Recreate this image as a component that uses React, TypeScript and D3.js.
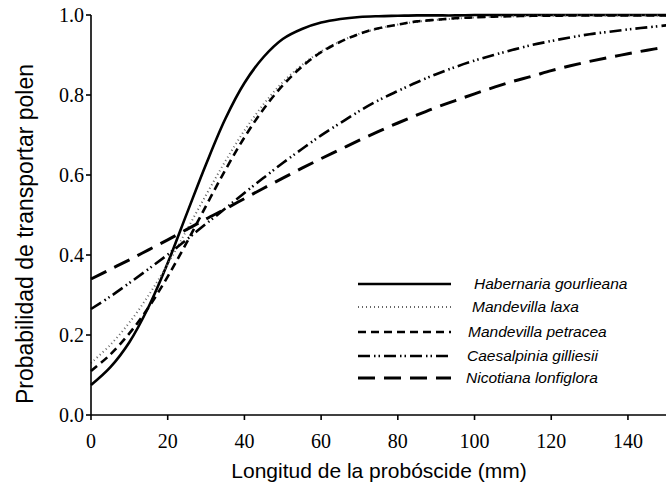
import React from "react";
import * as d3 from "d3";

const lengths = [0,5,10,15,20,25,30,35,40,45,50,55,60,65,70,75,80,85,90,95,100,105,110,115,120,125,130,135,140,145,150];

const habernaria = [0.075,0.119,0.182,0.270,0.380,0.504,0.627,0.740,0.830,0.895,0.940,0.965,0.981,0.990,0.995,0.997,0.998,0.999,0.999,0.999,1.0,1.0,1.0,1.0,1.0,1.0,1.0,1.0,1.0,1.0,1.0];
const mandevillaLaxa = [0.130,0.175,0.231,0.299,0.377,0.463,0.550,0.634,0.711,0.777,0.832,0.875,0.909,0.934,0.953,0.966,0.976,0.983,0.988,0.991,0.994,0.996,0.997,0.998,0.998,0.999,0.999,0.999,0.999,0.999,0.999];
const mandevillaPetracea = [0.110,0.151,0.204,0.269,0.346,0.432,0.523,0.612,0.694,0.765,0.824,0.871,0.907,0.933,0.953,0.967,0.976,0.984,0.988,0.992,0.994,0.996,0.997,0.998,0.998,0.999,0.999,0.999,0.999,0.999,0.999];
const caesalpinia = [0.265,0.296,0.330,0.365,0.401,0.439,0.478,0.516,0.555,0.593,0.630,0.665,0.699,0.730,0.760,0.787,0.810,0.832,0.852,0.870,0.886,0.900,0.913,0.925,0.935,0.944,0.952,0.958,0.964,0.969,0.974];
const nicotiana = [0.340,0.364,0.388,0.413,0.438,0.464,0.490,0.515,0.541,0.567,0.592,0.617,0.641,0.664,0.687,0.709,0.730,0.750,0.769,0.786,0.803,0.819,0.834,0.847,0.861,0.873,0.884,0.894,0.903,0.912,0.920];

const seriesNames = ["Habernaria gourlieana","Mandevilla laxa","Mandevilla petracea","Caesalpinia gilliesii","Nicotiana lonfiglora"];
const seriesValues = [habernaria, mandevillaLaxa, mandevillaPetracea, caesalpinia, nicotiana];

const xTicks = [0,20,40,60,80,100,120,140];
const yTicks = [0,0.2,0.4,0.6,0.8,1.0];

const styles = [
  { stroke: "#000", width: 2.6, dash: null as string | null },
  { stroke: "#666", width: 2, dash: "1,3" },
  { stroke: "#000", width: 2.6, dash: "8,5" },
  { stroke: "#000", width: 2.6, dash: "12,4,1.5,3,1.5,4" },
  { stroke: "#000", width: 3, dash: "17,9" },
];

export default function App() {
  const W = 666, H = 489;
  const x = d3.scaleLinear().domain([0, 150]).range([91, 666.3]);
  const y = d3.scaleLinear().domain([0, 1]).range([415, 15]);
  const line = d3.line<number>()
    .x((_, i) => x(lengths[i]))
    .y((d) => y(d))
    .curve(d3.curveCatmullRom);

  const serifStyle = { fontFamily: "'Liberation Serif', 'Times New Roman', 'DejaVu Serif', serif" };
  const sansStyle = { fontFamily: "'Liberation Sans', Arial, sans-serif" };
  const legendY = [284, 307, 332, 356, 378];
  const legendTextX = [474, 472, 468, 467, 466];

  return (
    <svg width={W} height={H} style={{ position: "absolute", left: 0, top: 0, background: "#fff" }}>
      <rect width={W} height={H} fill="#fff" />
      <g>
        {seriesValues.map((vals, i) => (
          <path key={i} d={line(vals) || ""} fill="none" stroke={styles[i].stroke}
            strokeWidth={styles[i].width} strokeDasharray={styles[i].dash || undefined} />
        ))}
      </g>
      <line x1={x(0)} x2={x(0)} y1={y(1)} y2={y(0)} stroke="#000" strokeWidth={1.6} />
      <line x1={x(0)} x2={666} y1={y(0)} y2={y(0)} stroke="#000" strokeWidth={1.6} />
      {yTicks.map((t) => (
        <g key={t}>
          <line x1={x(0) - 5} x2={x(0)} y1={y(t)} y2={y(t)} stroke="#000" strokeWidth={1.6} />
          <text x={x(0) - 7} y={y(t)} dy="0.35em" textAnchor="end" style={serifStyle} fontSize={20}>{t.toFixed(1)}</text>
        </g>
      ))}
      {xTicks.map((t) => (
        <g key={t}>
          <line x1={x(t)} x2={x(t)} y1={y(0)} y2={y(0) + 5} stroke="#000" strokeWidth={1.6} />
          <text x={x(t)} y={y(0) + 33} textAnchor="middle" style={serifStyle} fontSize={20}>{t}</text>
        </g>
      ))}
      <text x={379} y={478} textAnchor="middle" style={sansStyle} fontSize={21}>Longitud de la probóscide (mm)</text>
      <text transform={`translate(33,234) rotate(-90)`} textAnchor="middle" style={sansStyle} fontSize={23}>Probabilidad de transportar polen</text>
      {seriesNames.map((n, i) => (
        <g key={n}>
          <line x1={358} x2={451} y1={legendY[i]} y2={legendY[i]} stroke={styles[i].stroke}
            strokeWidth={styles[i].width} strokeDasharray={styles[i].dash || undefined} />
          <text x={legendTextX[i]} y={legendY[i]} dy="0.35em" style={sansStyle} fontStyle="italic" fontSize={15.5}>{n}</text>
        </g>
      ))}
    </svg>
  );
}
